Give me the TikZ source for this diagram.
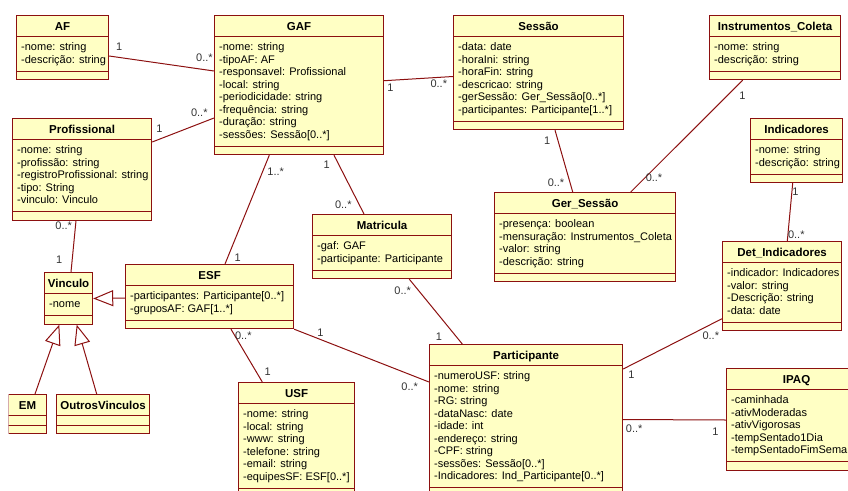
\documentclass[tikz,border=0pt]{standalone}
\usepackage{fontspec}
\setmainfont{Liberation Sans}
\usetikzlibrary{calc,arrows.meta}
\definecolor{umlfill}{RGB}{255,255,196}
\definecolor{umlline}{RGB}{140,16,16}

\begin{document}
\begin{tikzpicture}[x=1pt,y=-1pt,
  cls/.style={draw=umlline, fill=umlfill, line width=1.2pt, anchor=north west, inner sep=0},
  sepline/.style={draw=umlline, line width=1pt},
  ttl/.style={font=\fontsize{11.5}{13}\selectfont\bfseries, anchor=base, inner sep=0},
  att/.style={font=\fontsize{11}{13}\selectfont, anchor=base west, inner sep=0},
  assoc/.style={draw=umlline, line width=1pt},
  gen/.style={draw=umlline, line width=1pt, -{Triangle[open, length=20pt, width=16pt]}},
  mult/.style={font=\fontsize{11}{13}\selectfont, text=black!80, inner sep=0}]
\useasboundingbox (0,0) rectangle (848,490);
\clip (8.6,0) rectangle (848,490);

\foreach \nm/\bx/\by/\w/\n/\ttl in {AF/16/15/92/2/AF, GAF/214/15/169/8/GAF,
  Sessao/453/15/170/6/Sessão, Instrumentos_Coleta/709/15/131/2/Instrumentos\_Coleta,
  Profissional/12/118/139/5/Profissional, Indicadores/750/118/92/2/Indicadores,
  Ger_Sessao/494/192/181/4/Ger\_Sessão, Matricula/312/214/139/2/Matricula,
  Det_Indicadores/722/241/119/4/Det\_Indicadores, ESF/125/264/168/2/ESF,
  Vinculo/44/272/48/1/Vinculo, Participante/429/344/193/9/Participante,
  IPAQ/726/368/140/5/IPAQ, USF/238/382/116/6/USF,
  EM/8/394/38/0/EM, OutrosVinculos/56/394/93/0/OutrosVinculos}{
  \node[cls, minimum width=\w, minimum height={39+12.5*\n}] (\nm) at (\bx,\by) {};
  \node[ttl] at ($(\nm.north)+(0,15)$) {\ttl};
  \draw[sepline] ($(\nm.north west)+(0,21.5)$) -- ($(\nm.north east)+(0,21.5)$)
                 ($(\nm.south west)+(0,-9)$) -- ($(\nm.south east)+(0,-9)$);
}

\foreach \a [count=\i] in {-nome: string, -descrição: string}
  \node[att] at ($(AF.north west)+(5,{23+12.5*\i})$) {\a};
\foreach \a [count=\i] in {-nome: string, -tipoAF: AF, -responsavel: Profissional,
  -local: string, -periodicidade: string, -frequência: string, -duração: string,
  -sessões: Sessão[0..*]}
  \node[att] at ($(GAF.north west)+(5,{23+12.5*\i})$) {\a};
\foreach \a [count=\i] in {-data: date, -horaIni: string, -horaFin: string,
  -descricao: string, -gerSessão: Ger\_Sessão[0..*], -participantes: Participante[1..*]}
  \node[att] at ($(Sessao.north west)+(5,{23+12.5*\i})$) {\a};
\foreach \a [count=\i] in {-nome: string, -descrição: string}
  \node[att] at ($(Instrumentos_Coleta.north west)+(5,{23+12.5*\i})$) {\a};
\foreach \a [count=\i] in {-nome: string, -profissão: string,
  -registroProfissional: string, -tipo: String, -vinculo: Vinculo}
  \node[att] at ($(Profissional.north west)+(5,{23+12.5*\i})$) {\a};
\foreach \a [count=\i] in {-nome: string, -descrição: string}
  \node[att] at ($(Indicadores.north west)+(5,{23+12.5*\i})$) {\a};
\foreach \a [count=\i] in {-presença: boolean, -mensuração: Instrumentos\_Coleta,
  -valor: string, -descrição: string}
  \node[att] at ($(Ger_Sessao.north west)+(5,{23+12.5*\i})$) {\a};
\foreach \a [count=\i] in {-gaf: GAF, -participante: Participante}
  \node[att] at ($(Matricula.north west)+(5,{23+12.5*\i})$) {\a};
\foreach \a [count=\i] in {-indicador: Indicadores, -valor: string,
  -Descrição: string, -data: date}
  \node[att] at ($(Det_Indicadores.north west)+(5,{23+12.5*\i})$) {\a};
\foreach \a [count=\i] in {-participantes: Participante[0..*], -gruposAF: GAF[1..*]}
  \node[att] at ($(ESF.north west)+(5,{23+12.5*\i})$) {\a};
\foreach \a [count=\i] in {-nome}
  \node[att] at ($(Vinculo.north west)+(5,{23+12.5*\i})$) {\a};
\foreach \a [count=\i] in {-numeroUSF: string, -nome: string, -RG: string,
  -dataNasc: date, -idade: int, -endereço: string, -CPF: string,
  -sessões: Sessão[0..*], -Indicadores: Ind\_Participante[0..*]}
  \node[att] at ($(Participante.north west)+(5,{23+12.5*\i})$) {\a};
\foreach \a [count=\i] in {-caminhada, -ativModeradas, -ativVigorosas,
  -tempSentado1Dia, -tempSentadoFimSemana}
  \node[att] at ($(IPAQ.north west)+(5,{23+12.5*\i})$) {\a};
\foreach \a [count=\i] in {-nome: string, -local: string, -www: string,
  -telefone: string, -email: string, -equipesSF: ESF[0..*]}
  \node[att] at ($(USF.north west)+(5,{23+12.5*\i})$) {\a};

\draw[assoc] ($(AF.north east)+(0,41)$) -- ($(GAF.north west)+(0,56)$)
  node[mult, pos=0, xshift=10, yshift=9.5] {1}
  node[mult, pos=1, xshift=-9.5, yshift=13] {0..*};
\draw[assoc] ($(Profissional.north east)+(0,24)$) -- ($(GAF.north west)+(0,103)$)
  node[mult, pos=0, xshift=7.3, yshift=13.7] {1}
  node[mult, pos=1, xshift=-14.7, yshift=5.7] {0..*};
\draw[assoc] ($(Profissional.south west)+(64,0)$) -- ($(Vinculo.north west)+(27,0)$)
  node[mult, pos=0, xshift=-12.3, yshift=-5.3] {0..*}
  node[mult, pos=1, xshift=-11.7, yshift=12.7] {1};
\draw[assoc] ($(GAF.north east)+(0,65.7)$) -- ($(Sessao.north west)+(0,61.5)$)
  node[mult, pos=0, xshift=6.3, yshift=-7] {1}
  node[mult, pos=1, xshift=-14.2, yshift=-7] {0..*};
\draw[assoc] ($(GAF.south west)+(55.3,0)$) -- ($(ESF.north west)+(100,0)$)
  node[mult, pos=0, xshift=6.4, yshift=-16.7] {1..*}
  node[mult, pos=1, xshift=12.7, yshift=6.7] {1};
\draw[assoc] ($(GAF.south west)+(120,0)$) -- ($(Matricula.north west)+(52,0)$)
  node[mult, pos=0, xshift=-7.3, yshift=-9.3] {1}
  node[mult, pos=1, xshift=-20.7, yshift=9] {0..*};
\draw[assoc] ($(Sessao.south west)+(102,0)$) -- ($(Ger_Sessao.north west)+(78.7,0)$)
  node[mult, pos=0, xshift=-7.7, yshift=-10.3] {1}
  node[mult, pos=1, xshift=-16.7, yshift=9.7] {0..*};
\draw[assoc] ($(Instrumentos_Coleta.south west)+(33.7,0)$) -- ($(Ger_Sessao.north west)+(136.7,0)$)
  node[mult, pos=0, xshift=-0.4, yshift=-15.3] {1}
  node[mult, pos=1, xshift=23.3, yshift=14.7] {0..*};
\draw[assoc] ($(Indicadores.south west)+(42.7,0)$) -- ($(Det_Indicadores.north west)+(65.3,0)$)
  node[mult, pos=0, xshift=2.6, yshift=-8.7] {1}
  node[mult, pos=1, xshift=9, yshift=6] {0..*};
\draw[assoc] ($(ESF.south west)+(106,0)$) -- ($(USF.north west)+(24.3,0)$)
  node[mult, pos=0, xshift=12.3, yshift=-6.3] {0..*}
  node[mult, pos=1, xshift=5.4, yshift=10.3] {1};
\draw[assoc] (ESF.south east) -- ($(Participante.north west)+(0,38)$)
  node[mult, pos=0, xshift=26.3, yshift=-4] {1}
  node[mult, pos=1, xshift=-19.3, yshift=-5] {0..*};
\draw[assoc] ($(Matricula.south west)+(97.3,0)$) -- ($(Participante.north west)+(33.3,0)$)
  node[mult, pos=0, xshift=-6.6, yshift=-12] {0..*}
  node[mult, pos=1, xshift=-23.3, yshift=7.3] {1};
\draw[assoc] ($(Participante.north east)+(0,25)$) -- ($(Det_Indicadores.north west)+(0,77.7)$)
  node[mult, pos=0, xshift=8.3, yshift=-6] {1}
  node[mult, pos=1, xshift=-11.2, yshift=-17] {0..*};
\draw[assoc] ($(Participante.north east)+(0,75.5)$) -- ($(IPAQ.north west)+(0,52)$)
  node[mult, pos=0, xshift=11, yshift=-9] {0..*}
  node[mult, pos=1, xshift=-10.7, yshift=-11.3] {1};

\draw[gen] ($(ESF.north west)+(0,34)$) -- ($(Vinculo.north east)+(0,26.5)$);
\draw[gen] ($(EM.north west)+(27,0)$) -- ($(Vinculo.south west)+(15.3,0)$);
\draw[gen] ($(OutrosVinculos.north west)+(40.7,0)$) -- ($(Vinculo.south west)+(32.7,0)$);
\end{tikzpicture}
\end{document}
